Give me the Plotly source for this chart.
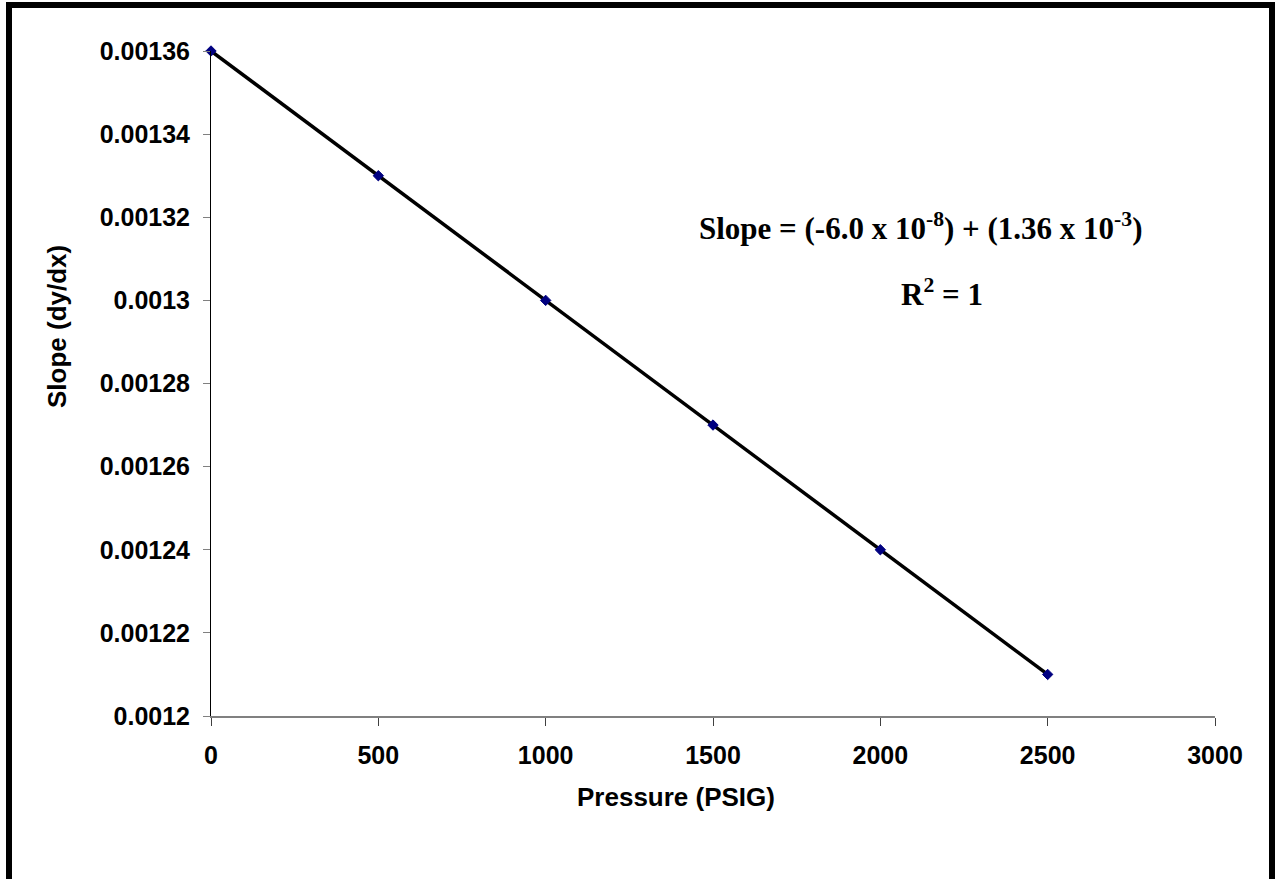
import plotly.graph_objects as go

# Measured slope versus gauge pressure
pressure = [0, 500, 1000, 1500, 2000, 2500]
slope = [0.00136, 0.00133, 0.00130, 0.00127, 0.00124, 0.00121]

x_ticks = [0, 500, 1000, 1500, 2000, 2500, 3000]
y_ticks = [0.0012, 0.00122, 0.00124, 0.00126, 0.00128, 0.0013, 0.00132, 0.00134, 0.00136]
y_tick_text = ["0.0012", "0.00122", "0.00124", "0.00126", "0.00128", "0.0013",
               "0.00132", "0.00134", "0.00136"]

W, H = 1275, 879
L, R, T, B = 211, 60, 51, 163
pw, ph = W - L - R, H - T - B


def px_x(p):
    return (p - L) / pw


def px_y(p):
    return (H - B - p) / ph


fig = go.Figure()

# linear trend line
fig.add_trace(go.Scatter(
    x=pressure, y=slope, mode="lines",
    line=dict(color="black", width=3.5),
    hoverinfo="skip", showlegend=False, cliponaxis=False,
))
# data points
fig.add_trace(go.Scatter(
    x=pressure, y=slope, mode="markers",
    marker=dict(symbol="diamond", size=8, color="#000080",
                line=dict(color="#000080", width=1)),
    showlegend=False, cliponaxis=False,
))

sans = "Liberation Sans, Arial, sans-serif"
tick_font = dict(family=sans, size=25, color="black")
title_font = dict(family=sans, size=26, color="black")

fig.update_layout(
    width=W, height=H,
    margin=dict(l=L, r=R, t=T, b=B),
    paper_bgcolor="white", plot_bgcolor="white",
    xaxis=dict(
        range=[0, 3000], tickvals=x_ticks,
        ticktext=["<b>" + str(v) + "</b>" for v in x_ticks],
        showgrid=False, zeroline=False,
        showline=True, linecolor="#808080", linewidth=2,
        ticks="outside", ticklen=8, tickcolor="#404040", tickwidth=1,
        tickfont=tick_font, ticklabelstandoff=8,
    ),
    yaxis=dict(
        range=[0.0012, 0.00136], tickvals=y_ticks,
        ticktext=["<b>" + t + "</b>" for t in y_tick_text],
        showgrid=False, zeroline=False,
        showline=True, linecolor="black", linewidth=1,
        ticks="outside", ticklen=7, tickcolor="#808080", tickwidth=1,
        tickfont=tick_font, ticklabelstandoff=8,
    ),
)

# axis titles
fig.add_annotation(
    x=px_x(676), y=px_y(797), xref="paper", yref="paper",
    text="<b>Pressure (PSIG)</b>", showarrow=False, font=title_font,
    xanchor="center", yanchor="middle",
)
fig.add_annotation(
    x=px_x(57), y=px_y(327), xref="paper", yref="paper",
    text="<b>Slope (dy/dx)</b>", showarrow=False, font=title_font, textangle=-90,
    xanchor="center", yanchor="middle",
)

ann_font = dict(family="Liberation Serif, Times New Roman, serif", size=31, color="black")
fig.add_annotation(
    x=px_x(920), y=px_y(226), xref="paper", yref="paper",
    text="<b>Slope = (-6.0 x 10<sup>-8</sup>) + (1.36 x 10<sup>-3</sup>)</b>",
    showarrow=False, font=ann_font, xanchor="center", yanchor="middle",
)
fig.add_annotation(
    x=px_x(942), y=px_y(292), xref="paper", yref="paper",
    text="<b>R<sup>2</sup> = 1</b>",
    showarrow=False, font=ann_font, xanchor="center", yanchor="middle",
)

# outer frame around the chart area
frame = dict(color="black", width=6)
fig.add_shape(type="line", xref="paper", yref="paper",
              x0=px_x(9), x1=px_x(9), y0=px_y(2), y1=px_y(H + 20), line=frame)
fig.add_shape(type="line", xref="paper", yref="paper",
              x0=px_x(1272), x1=px_x(1272), y0=px_y(2), y1=px_y(H + 20), line=frame)
fig.add_shape(type="line", xref="paper", yref="paper",
              x0=px_x(6), x1=px_x(1275), y0=px_y(5), y1=px_y(5), line=frame)

fig.write_html("out.html")
